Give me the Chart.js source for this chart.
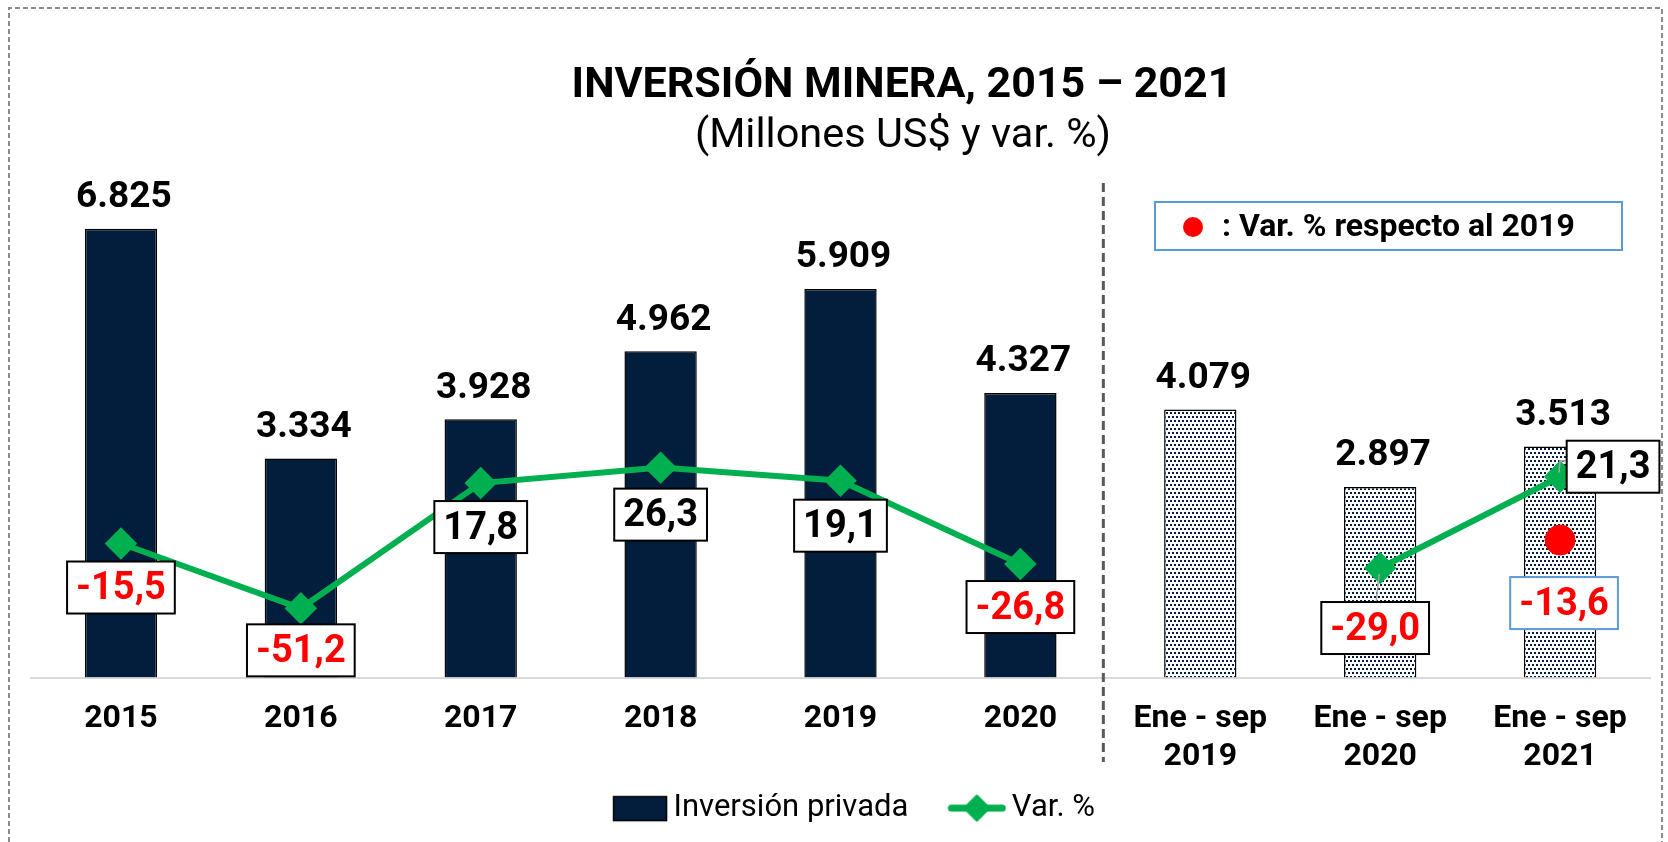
<!DOCTYPE html>
<html>
<head>
<meta charset="utf-8">
<script src="https://cdn.jsdelivr.net/npm/chart.js@4.4.0/dist/chart.umd.min.js"></script>
<style>
  html, body { margin: 0; padding: 0; background: #fff; }
</style>
</head>
<body>
<canvas id="chart" width="1668" height="842"></canvas>
<script>
// data
const categories = ['2015', '2016', '2017', '2018', '2019', '2020',
    ['Ene - sep', '2019'], ['Ene - sep', '2020'], ['Ene - sep', '2021']];
const periodKind = ['year', 'year', 'year', 'year', 'year', 'year', 'ytd', 'ytd', 'ytd'];
const investment = [6825, 3334, 3928, 4962, 5909, 4327, 4079, 2897, 3513];
const variation = [-15.5, -51.2, 17.8, 26.3, 19.1, -26.8, null, -29.0, 21.3];
const varVs2019 = [null, null, null, null, null, null, null, null, -13.6];
const seriesNames = ['Inversión privada', 'Var. %', 'Var. % respecto al 2019'];
const chartTitle = 'INVERSIÓN MINERA, 2015 – 2021';
const chartSubtitle = '(Millones US$ y var. %)';
const noteText = ': Var. % respecto al 2019';

const NAVY = '#021e3c';
const GREEN = '#00b050';
const RED = '#ff0000';
const BLUE_BOX = '#5b9bd5';

Chart.defaults.font.family = "Roboto, 'Liberation Sans', sans-serif";
Chart.defaults.color = '#000';

const ctx = document.getElementById('chart').getContext('2d');

// dotted fill for the january-september bars
function dotPattern() {
    const c = document.createElement('canvas');
    c.width = 4; c.height = 8;
    const g = c.getContext('2d');
    g.fillStyle = '#fff';
    g.fillRect(0, 0, 4, 8);
    g.fillStyle = NAVY;
    g.fillRect(0, 0, 2, 2);
    g.fillRect(2, 4, 2, 2);
    return ctx.createPattern(c, 'repeat');
}
const dots = dotPattern();

// legend icons
function barIcon() {
    const c = document.createElement('canvas');
    c.width = 92; c.height = 30;
    const g = c.getContext('2d');
    g.fillStyle = NAVY;
    g.fillRect(37, 3, 54, 25);
    g.strokeStyle = '#000';
    g.lineWidth = 1.5;
    g.strokeRect(37.5, 3.5, 53, 24);
    return c;
}
function lineIcon() {
    const c = document.createElement('canvas');
    c.width = 92; c.height = 30;
    const g = c.getContext('2d');
    g.strokeStyle = GREEN;
    g.lineWidth = 7;
    g.lineCap = 'round';
    g.beginPath(); g.moveTo(37, 15); g.lineTo(88, 15); g.stroke();
    g.fillStyle = GREEN;
    g.lineJoin = 'round';
    g.lineWidth = 3;
    g.beginPath();
    g.moveTo(62.5, 3); g.lineTo(74.5, 15); g.lineTo(62.5, 27); g.lineTo(50.5, 15); g.closePath();
    g.fill(); g.stroke();
    return c;
}
const legendIcons = [barIcon(), lineIcon()];

function fmtThousands(v) {
    return String(v).replace(/\B(?=(\d{3})+(?!\d))/g, '.');
}
function fmtPct(v) {
    return v.toFixed(1).replace('.', ',');
}

// label box placement relative to the point (dx, dy)
const boxOffsets = [[0, 44], [0, 42], [0, 44], [0, 47], [0, 45], [0, 43], null, [-5, 60], [53, -10]];
const leaderLines = [false, false, false, false, false, false, false, true, true];

function drawBox(c, txt, cx, cy, textColor, borderColor) {
    c.font = 'bold 38px Roboto';
    const w = c.measureText(txt).width + 18;
    const h = 52;
    c.fillStyle = '#fff';
    c.fillRect(cx - w / 2, cy - h / 2, w, h);
    c.strokeStyle = borderColor;
    c.lineWidth = 2;
    c.strokeRect(cx - w / 2, cy - h / 2, w, h);
    c.fillStyle = textColor;
    c.textAlign = 'center';
    c.textBaseline = 'middle';
    c.fillText(txt, cx, cy + 2);
}

const labelPlugin = {
    id: 'valueLabels',
    afterDatasetsDraw(chart) {
        const c = chart.ctx;
        c.save();
        // bar values
        c.font = 'bold 37px Roboto';
        c.textAlign = 'center';
        c.textBaseline = 'middle';
        c.fillStyle = '#000';
        chart.getDatasetMeta(0).data.forEach((bar, i) => {
            c.fillText(fmtThousands(investment[i]), bar.x + 3, bar.y - 31);
        });
        // variation boxes
        chart.getDatasetMeta(1).data.forEach((pt, i) => {
            const v = variation[i];
            if (v === null || !boxOffsets[i]) return;
            const [dx, dy] = boxOffsets[i];
            const cx = pt.x + dx, cy = pt.y + dy;
            if (leaderLines[i]) {
                c.strokeStyle = '#a6a6a6';
                c.lineWidth = 1.5;
                c.beginPath();
                if (dy > 0) {
                    c.moveTo(pt.x - 1, pt.y + 6);
                    c.lineTo(pt.x - 4, cy - 26);
                } else {
                    c.moveTo(pt.x - 1, pt.y - 4);
                    c.lineTo(pt.x, cy - 6);
                    c.lineTo(cx - 40, cy - 6);
                }
                c.stroke();
            }
            drawBox(c, fmtPct(v), cx, cy, v < 0 ? RED : '#000', '#000');
        });
        // variation against 2019
        chart.getDatasetMeta(2).data.forEach((pt, i) => {
            const v = varVs2019[i];
            if (v === null) return;
            drawBox(c, fmtPct(v), pt.x + 4, pt.y + 63, RED, BLUE_BOX);
        });
        c.restore();
    },
    afterDraw(chart) {
        const c = chart.ctx;
        const xs = chart.scales.x;
        c.save();
        // title block
        c.fillStyle = '#000';
        c.textAlign = 'center';
        c.textBaseline = 'middle';
        c.font = 'bold 43px Roboto';
        c.fillText(chartTitle, 902, 86);
        c.font = '41.5px Roboto';
        c.fillText(chartSubtitle, 903, 137);
        // outer dashed frame
        c.strokeStyle = '#8c8c8c';
        c.lineWidth = 2;
        c.setLineDash([5, 3]);
        c.beginPath();
        c.moveTo(9, 842); c.lineTo(9, 8); c.lineTo(1662, 8); c.lineTo(1662, 842);
        c.stroke();
        // divider between full years and january-september
        const xDiv = (xs.getPixelForValue(5) + xs.getPixelForValue(6)) / 2 - 7;
        c.strokeStyle = '#595959';
        c.lineWidth = 3;
        c.setLineDash([9, 5]);
        c.beginPath();
        c.moveTo(xDiv, 183); c.lineTo(xDiv, 762);
        c.stroke();
        c.setLineDash([]);
        // note box
        c.strokeStyle = BLUE_BOX;
        c.lineWidth = 2;
        c.strokeRect(1155, 202, 467, 48);
        c.fillStyle = RED;
        c.beginPath();
        c.arc(1193, 227, 10, 0, Math.PI * 2);
        c.fill();
        c.fillStyle = '#000';
        c.font = 'bold 32px Roboto';
        c.textAlign = 'left';
        c.fillText(noteText, 1222, 228);
        c.restore();
    }
};

new Chart(ctx, {
    data: {
        labels: categories,
        datasets: [
            {
                type: 'bar',
                label: seriesNames[0],
                data: investment,
                backgroundColor: periodKind.map(k => k === 'year' ? NAVY : dots),
                borderColor: '#000',
                borderWidth: 1.5,
                categoryPercentage: 0.402,
                barPercentage: 1,
                yAxisID: 'y',
                order: 2
            },
            {
                type: 'line',
                label: seriesNames[1],
                data: variation,
                borderColor: GREEN,
                backgroundColor: GREEN,
                borderWidth: 6,
                pointStyle: 'rectRot',
                pointRadius: 12,
                pointHoverRadius: 12,
                pointBackgroundColor: GREEN,
                pointBorderColor: GREEN,
                spanGaps: false,
                tension: 0,
                yAxisID: 'y2',
                order: 1
            },
            {
                type: 'line',
                label: seriesNames[2],
                data: varVs2019,
                showLine: false,
                pointStyle: 'circle',
                pointRadius: 15,
                pointHoverRadius: 15,
                pointBackgroundColor: RED,
                pointBorderColor: RED,
                yAxisID: 'y2',
                order: 0
            }
        ]
    },
    options: {
        responsive: false,
        animation: false,
        layout: {
            padding: {left: 31, right: 18, top: 174.6, bottom: 8.4}
        },
        scales: {
            x: {
                grid: {display: false, drawTicks: false},
                border: {display: true, color: '#d9d9d9', width: 2},
                ticks: {
                    font: {size: 32, weight: 'bold', lineHeight: 1.2},
                    color: '#000',
                    padding: 22,
                    maxRotation: 0,
                    autoSkip: false
                },
                afterFit(scale) {
                    scale.height = 99;
                }
            },
            y: {display: false, min: 0, max: 7650},
            y2: {display: false, min: -89.35, max: 187.7}
        },
        plugins: {
            title: {display: false},
            legend: {
                position: 'bottom',
                labels: {
                    usePointStyle: true,
                    pointStyleWidth: 72,
                    padding: 16,
                    color: '#000',
                    font: {size: 31},
                    generateLabels(chart) {
                        return [0, 1].map(i => ({
                            text: chart.data.datasets[i].label,
                            pointStyle: legendIcons[i],
                            fillStyle: 'transparent',
                            strokeStyle: 'transparent',
                            lineWidth: 0,
                            hidden: false,
                            datasetIndex: i,
                            fontColor: '#000'
                        }));
                    }
                }
            },
            tooltip: {enabled: false}
        }
    },
    plugins: [labelPlugin]
});
</script>
</body>
</html>
